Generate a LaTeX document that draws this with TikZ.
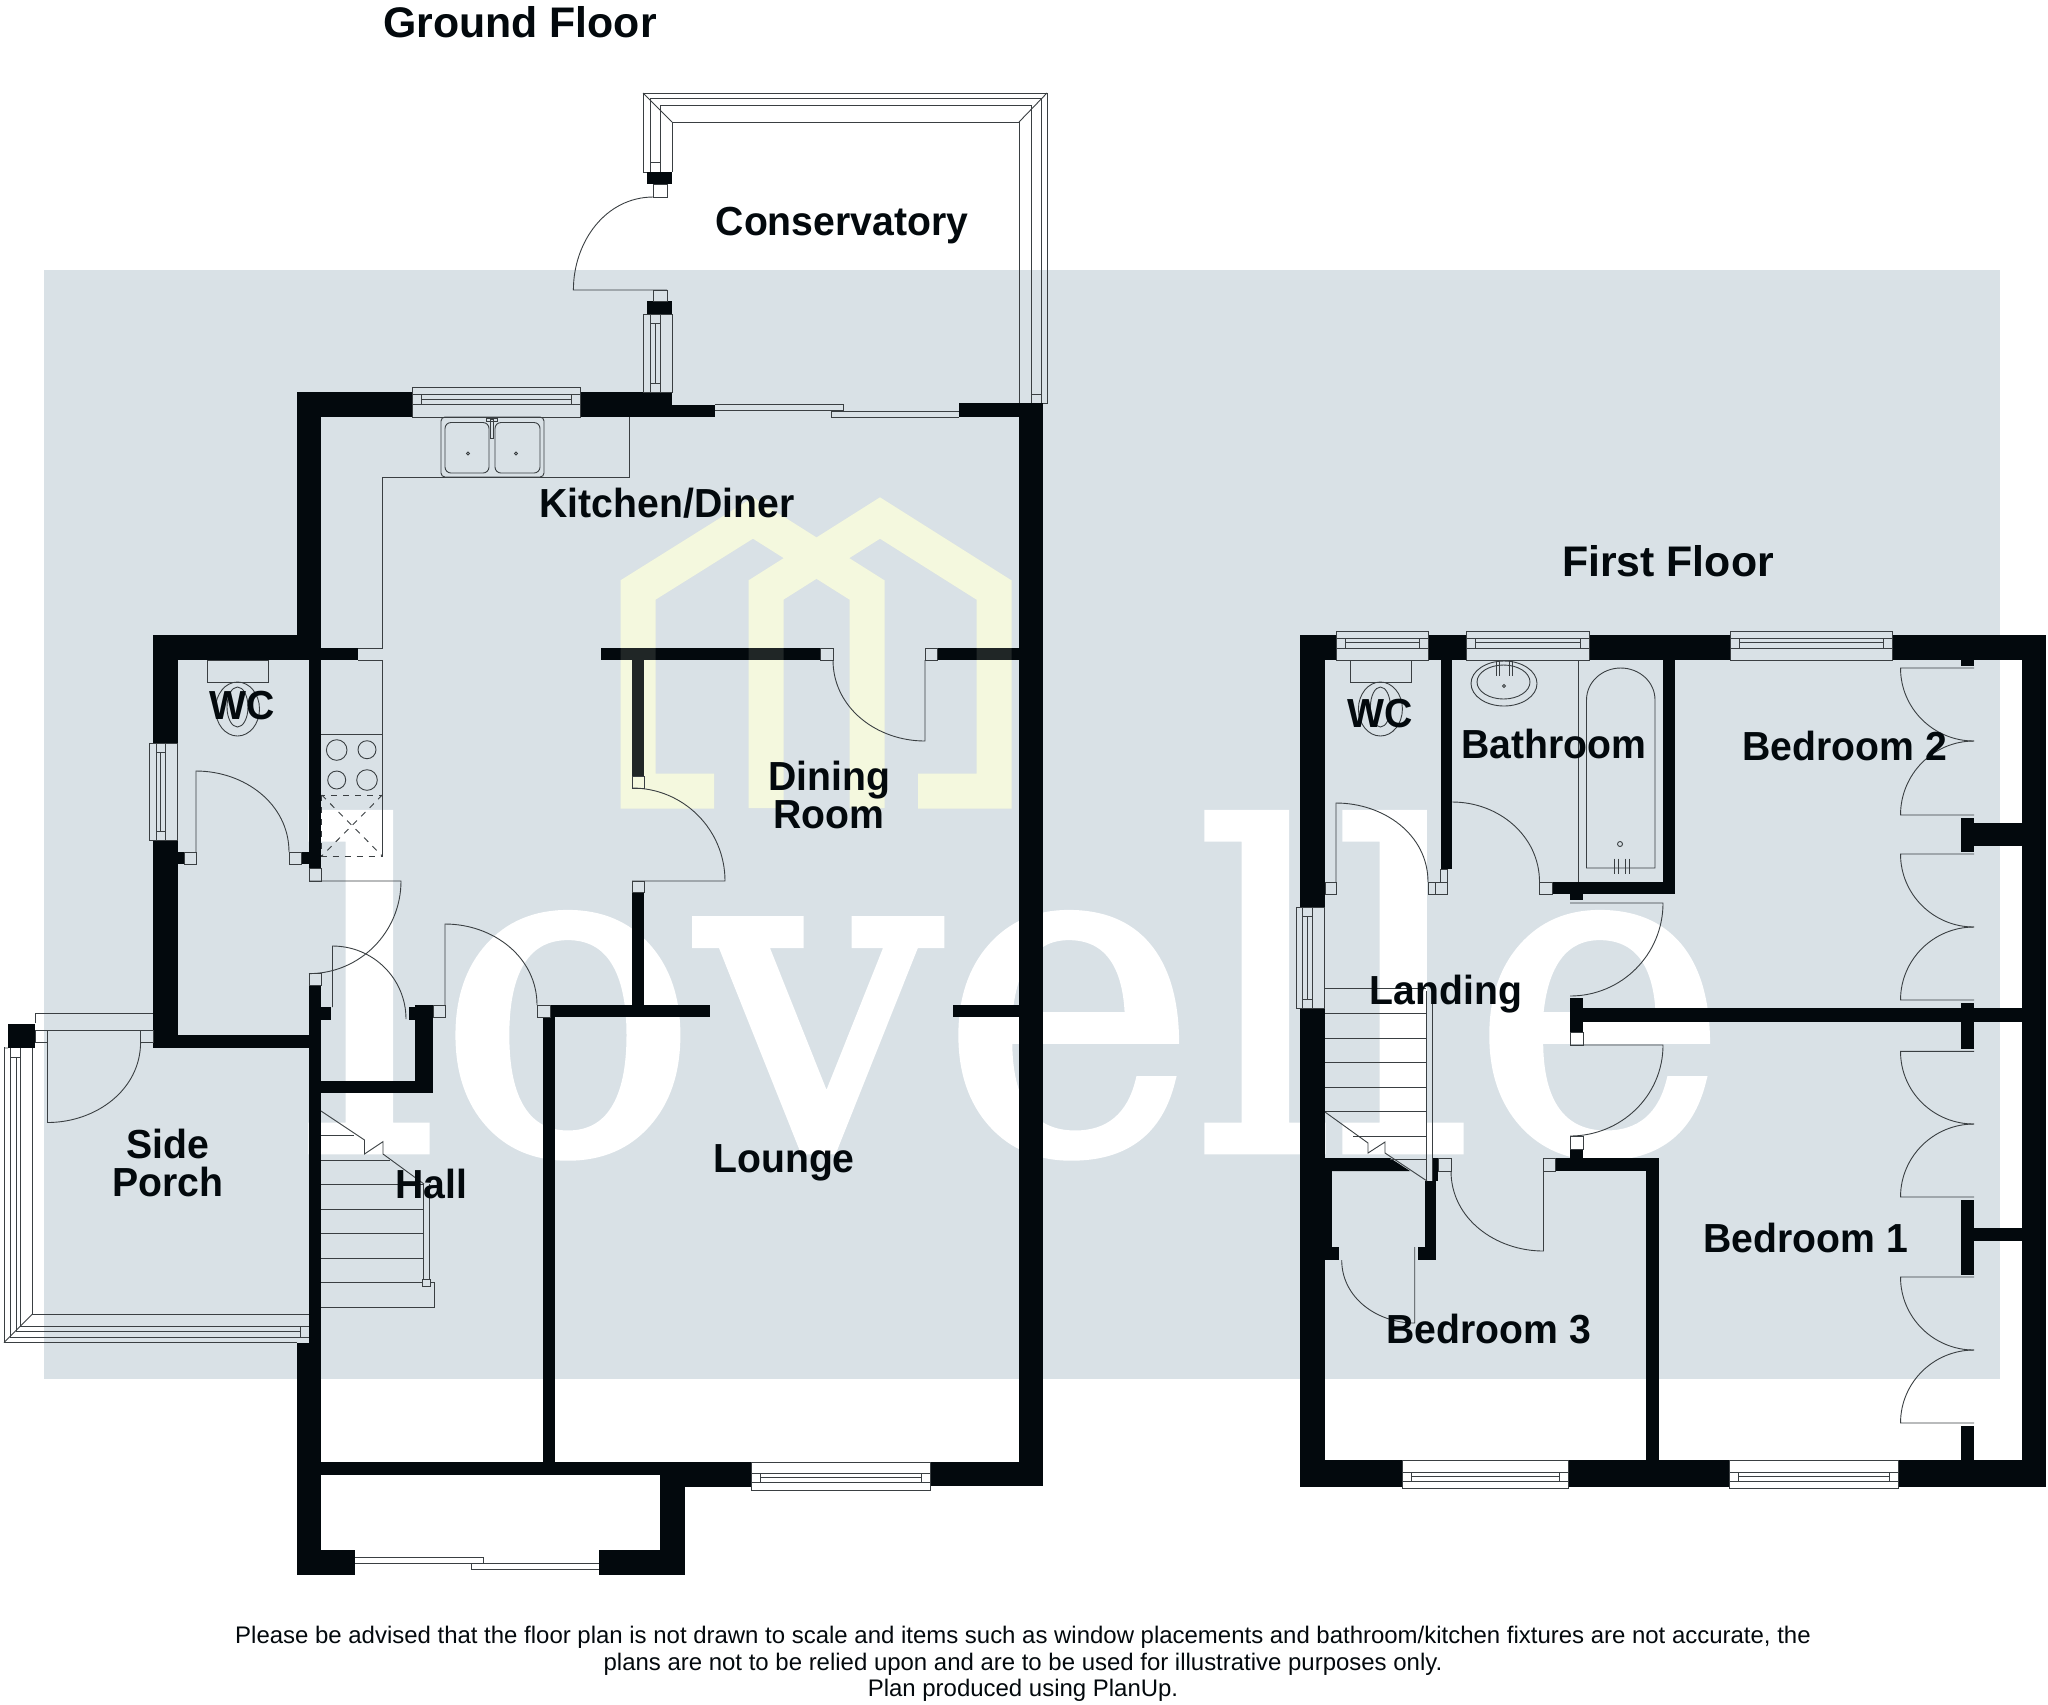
\documentclass[tikz,border=0pt]{standalone}
\usepackage{fontspec}
\setmainfont{Liberation Sans}
\newfontfamily\markfont[FakeBold=2]{DejaVu Serif}
\definecolor{bandc}{HTML}{D9E1E6}
\definecolor{wallc}{HTML}{03090D}
\definecolor{linec}{HTML}{3A3F42}
\definecolor{logoc}{HTML}{F4F8DE}
\tikzset{
  wall/.style={fill=wallc},
  thinline/.style={draw=linec, line width=.45pt},
  label/.style={font=\bfseries\fontsize{20.3}{19.2}\selectfont, align=center, text=wallc, inner sep=0pt, xscale=.965},
  headline/.style={font=\bfseries\fontsize{21.4}{24}\selectfont, text=wallc, inner sep=0pt},
  notetext/.style={font=\fontsize{11.98}{13.3}\selectfont, align=center, text=wallc, inner sep=0pt},
  logoline/.style={draw=logoc, line width=17.5pt, miter limit=10},
}
% window seen from above, in a horizontal wall
\newcommand{\hwin}[7]{
  \draw[thinline] (#1,#3) rectangle (#2,#7);
  \draw[thinline] (#1,#4) -- (#2,#4) (#1,#6) -- (#2,#6);
  \draw[thinline] (#1+9,#4) -- (#1+9,#6) (#2-9,#4) -- (#2-9,#6) (#1+9,#5) -- (#2-9,#5);
}
% same, in a vertical wall
\newcommand{\vwin}[7]{
  \draw[thinline] (#3,#1) rectangle (#7,#2);
  \draw[thinline] (#4,#1) -- (#4,#2) (#6,#1) -- (#6,#2);
  \draw[thinline] (#4,#1+9) -- (#6,#1+9) (#4,#2-9) -- (#6,#2-9) (#5,#1+9) -- (#5,#2-9);
}
\newcommand{\logopaths}[1]{
  \draw[logoline,#1] (714,791) -- (638,791) -- (638,590) -- (753,518) -- (867,590) -- (867,808);
  \draw[logoline,#1] (766,808) -- (766,590) -- (880,518) -- (994,590) -- (994,791) -- (918,791);
}
\begin{document}
\begin{tikzpicture}[x=.5pt,y=-.5pt]
\useasboundingbox (0,0) rectangle (2048,1704);

% band and watermark
\fill[bandc] (44,270) rectangle (2000,1379);
\logopaths{}
\node[anchor=base west, inner sep=0pt, text=white, xscale=.975, font=\markfont\fontsize{221}{221}\selectfont] (mark) at (300,1150) {lovelle};

% ground floor walls
\foreach \xa/\ya/\xb/\yb in {
  297/392/412/417, 580/392/672/417, 672/404.5/715/417, 958.6/403/1043/417,
  1019/403/1043/1486, 297/392/321/660, 153/635/321/660, 321/648/358/660,
  153/635/178/743, 153/840/178/1048, 178/852/184/864, 301.5/852/321/864,
  309/660/321/868, 153/1035/309/1048, 309/985/321/1342.5, 297/1342.5/321/1575,
  321/1007/330.5/1020, 321/1081/433/1093, 414.5/1005/433/1093, 409/1007/414.5/1020,
  550/1005/710/1017, 543/1017/555/1462, 632/892.5/644/1005, 632/660/644/776,
  600.7/648/820/660, 937/648/1019/660, 953/1005/1019/1017, 321/1462/660/1474.6,
  660/1462/751/1487, 930/1462/1043/1486, 660/1474/684.5/1575, 297/1550/355/1575,
  599/1550/684.5/1575, 8/1023.6/35/1048, 647/172/672/184, 647/301/672/314}
  \fill[wall] (\xa,\ya) rectangle (\xb,\yb);

% first floor walls
\foreach \xa/\ya/\xb/\yb in {
  1300/635/1336/660, 1428/635/1466/660, 1589.5/635/1730.5/660, 1892/635/2046.4/660,
  1300/635/1325/907, 1300/1008/1325/1486.5, 2022/635/2046.4/1486.5,
  1300/1460/1402.4/1486.5, 1568/1460/1729/1486.5, 1898/1460/2046.4/1486.5,
  1440.6/660/1452.4/869, 1552/882/1675/894, 1663/660/1675/894, 1570/894/1583/900,
  1570/998/1583/1032.5, 1583/1008/2022/1022, 1570/1149/1583/1158, 1555/1158/1659/1171,
  1646/1171/1659/1460, 1325/1171/1332/1247, 1325/1247/1339/1260,
  1424.5/1181/1436/1247, 1417.6/1247/1436/1260, 1432.8/1158/1437.7/1181,
  1961/660/1974/666, 1961/817.5/1974/851.5, 1974/823/2022/846, 1961/1003/1974/1048.5,
  1961/1200/1974/1274.6, 1974/1228/2022/1240.5, 1961/1426/1974/1460}
  \fill[wall] (\xa,\ya) rectangle (\xb,\yb);
\fill[wall] (1325,1158) -- (1390,1158) -- (1410,1171) -- (1325,1171) -- cycle;
\logopaths{opacity=.12}

% windows
\hwin{412}{580}{387}{394.6}{399.5}{404.6}{417}
\hwin{751}{930}{1462}{1473}{1477}{1482}{1490}
\hwin{1336}{1428}{631.4}{638}{642.5}{648}{660}
\hwin{1466}{1589.5}{631.4}{638}{642.5}{648}{660}
\hwin{1730.5}{1892}{631.4}{638}{642.5}{648}{660}
\hwin{1402.4}{1568}{1460}{1472}{1476.6}{1481.6}{1488}
\hwin{1729}{1898}{1460}{1472}{1476.6}{1481.6}{1488}
\vwin{743}{840}{149}{156}{160}{165}{177.5}
\vwin{907}{1008}{1296}{1302}{1307}{1312}{1324}
\vwin{314}{392}{643}{650}{655}{660}{672}

% conservatory frame
\draw[thinline] (643,172) -- (643,93) -- (1047,93) -- (1047,403) -- (1043,403);
\draw[thinline] (650,172) -- (650,98.5) -- (1041,98.5) -- (1041,403);
\draw[thinline] (660,172) -- (660,105.6) -- (1031,105.6) -- (1031,403);
\draw[thinline] (672,172) -- (672,122) -- (1019,122) -- (1019,403);
\draw[thinline] (643,93) -- (672,122) (1047,93) -- (1019,122);
\draw[thinline] (643,172) -- (647,172) (650,162) -- (660,162) (1031,394.6) -- (1041,394.6);
\draw[thinline] (653.5,184) rectangle (667,197) (653.5,290) rectangle (667,301);
\draw[thinline] (667,290) -- (573.4,290) to[out=90,in=180] (653.5,197);

% sliding doors
\draw[thinline] (715,404.5) -- (843,404.5) -- (843,410) -- (715,410);
\draw[thinline] (958.6,411) -- (831,411) -- (831,417) -- (958.6,417);
\draw[thinline] (355,1557) -- (483,1557) -- (483,1563) -- (355,1563);
\draw[thinline] (599,1563) -- (471,1563) -- (471,1569.5) -- (599,1569.5);

% kitchen units
\draw[thinline] (629,417) -- (629,477) -- (382,477) -- (382,648) -- (358,648);
\draw[thinline] (358,660) -- (382,660) -- (382,856);
\draw[thinline] (321,734) -- (382,734);
\draw[thinline, rounded corners=2pt] (441,417) rectangle (544,477);
\draw[thinline, rounded corners=3pt] (445,422.5) rectangle (489,473);
\draw[thinline, rounded corners=3pt] (495,422.5) rectangle (540,473);
\draw[thinline] (490,419) rectangle (493,438) (486,418) rectangle (497,421);
\draw[thinline] (468,453.5) circle (1.5) (516,453.5) circle (1.5);
\draw[thinline] (336.7,750) circle (10.3) (367,749.7) circle (9) (336.7,780) circle (9) (367,780) circle (10.3);
\draw[thinline, dashed] (321.7,795) rectangle (382.3,856);
\draw[thinline, dashed] (321.7,795) -- (382.3,856) (382.3,795) -- (321.7,856);

% ground floor doors
\draw[thinline] (820,648) rectangle (833,660) (925,648) rectangle (937,660);
\draw[thinline] (925,660) -- (925,741) to[out=180,in=270] (833,660);
\draw[thinline] (632,776) rectangle (644,788) (632,881) rectangle (644,892.5);
\draw[thinline] (632,881) -- (725,881) to[out=90,in=0] (632,788);
\draw[thinline] (184,852) rectangle (196,864) (289,852) rectangle (301.5,864);
\draw[thinline] (196,852) -- (196,771) to[out=0,in=90] (289,852);
\draw[thinline] (309,868) rectangle (321,881) (309,973.6) rectangle (321,985);
\draw[thinline] (309,881) -- (401,881) to[out=270,in=0] (309,973.6);
\draw[thinline] (332.5,1007) -- (332.5,946) to[out=0,in=90] (406,1019);
\draw[thinline] (433,1005) rectangle (445,1017) (537,1005) rectangle (550,1017);
\draw[thinline] (445,1005) -- (445,924) to[out=0,in=90] (537,1005);

% side porch
\draw[thinline] (35,1013) -- (153,1013) (35,1030) -- (153,1030) (35,1013) -- (35,1023);
\draw[thinline] (35,1030) rectangle (47.5,1042) (140.6,1030) rectangle (153,1042);
\draw[thinline] (47.5,1042) -- (47.5,1122.5) to[out=0,in=270] (140.6,1042);
\draw[thinline] (4,1047) -- (4,1342.5) -- (297,1342.5);
\draw[thinline] (10.7,1048) -- (10.7,1337) -- (309,1337);
\draw[thinline] (16,1057) -- (16,1331) -- (300,1331);
\draw[thinline] (20.4,1048) -- (20.4,1326.5) -- (309,1326.5);
\draw[thinline] (32.5,1048) -- (32.5,1314) -- (309,1314);
\draw[thinline] (4,1342.5) -- (32.5,1314) (4,1048) -- (8,1048);
\draw[thinline] (10.7,1057) -- (20.4,1057) (300,1326.5) -- (300,1337);

% hall stairs
\draw[thinline] (321,1111) -- (364.5,1140) -- (364.5,1154) -- (383,1141.6) -- (383,1154) -- (424,1184);
\draw[thinline] (423,1184) -- (423,1279) (429,1184) -- (429,1279);
\draw[thinline] (422,1279) rectangle (430,1286);
\foreach \ya/\xb in {1135/354, 1160/390, 1184.5/423, 1209/423, 1233.5/423, 1258/423, 1282.4/422}
  \draw[thinline] (321,\ya) -- (\xb,\ya);
\draw[thinline] (430,1282) -- (434,1282) -- (434,1307) -- (321,1307);

% ground floor WC
\draw[thinline] (207,660) rectangle (268,682.5);
\draw[thinline] (237.5,709) ellipse (22 and 27) (237.5,707) ellipse (10.5 and 20);

% first floor WC and bathroom
\draw[thinline] (1350,660) rectangle (1411,682.5);
\draw[thinline] (1380.4,709) ellipse (22 and 27) (1380.4,707) ellipse (10 and 20);
\draw[thinline] (1325,882) rectangle (1336,894) (1428,882) rectangle (1447.5,894) (1440.6,869) rectangle (1447.5,882) (1435,882) -- (1435,894);
\draw[thinline] (1336,882) -- (1336,803) to[out=0,in=90] (1428,882);
\draw[thinline] (1539.5,882) rectangle (1552,894);
\draw[thinline] (1452.4,802) to[out=0,in=90] (1539.5,882);
\draw[thinline] (1578,660) -- (1578,882);
\draw[thinline] (1586.5,868) -- (1586.5,700) to[out=90,in=180] (1620.7,668) to[out=0,in=90] (1655,700) -- (1655,868) -- cycle;
\draw[thinline] (1614.5,858.6) -- (1614.5,873.6) (1625.7,858.6) -- (1625.7,873.6) (1618,858.6) -- (1618,873.6) (1629,858.6) -- (1629,873.6);
\draw[thinline] (1620,844) circle (2.5);
\draw[thinline] (1504,683.5) ellipse (33 and 22.5) (1503.5,682) ellipse (26.5 and 17);
\draw[thinline] (1496,661) -- (1496,676) (1499,661) -- (1499,676) (1509,661) -- (1509,676) (1512,661) -- (1512,676);
\draw[thinline] (1504,686) circle (1.5);

% landing doors
\draw[thinline] (1570,903) -- (1663,903) to[out=270,in=0] (1570,996);
\draw[thinline] (1570,1032.5) rectangle (1583,1045);
\draw[thinline] (1570,1045) -- (1663,1045) to[out=270,in=0] (1570,1136);
\draw[thinline] (1570,1136) rectangle (1583,1149);
\draw[thinline] (1543.5,1158) rectangle (1555,1171) (1438.7,1158) rectangle (1451,1171);
\draw[thinline] (1543.5,1171) -- (1543.5,1251) to[out=180,in=270] (1451,1171);
\draw[thinline] (1414.7,1247) -- (1414.7,1323) to[out=180,in=270] (1341.7,1260);

% landing stairs
\draw[thinline] (1325,1112) -- (1368,1143) -- (1368,1153) -- (1385,1142) -- (1385,1153) -- (1427,1181);
\draw[thinline] (1426,991) -- (1426,1181) (1432,991) -- (1432,1181);
\foreach \xa/\ya in {1325/988, 1325/1013, 1325/1038, 1325/1062, 1325/1087, 1325/1111, 1353/1136, 1390/1159}
  \draw[thinline] (\xa,\ya) -- (1426,\ya);

% wardrobes
\foreach \ya/\ym/\yb in {668/741/815, 854/927/1000, 1051.4/1124/1197, 1277/1350/1423}{
  \draw[thinline] (1974,\ya) -- (1900.5,\ya) to[out=270,in=180] (1974,\ym);
  \draw[thinline] (1974,\yb) -- (1900.5,\yb) to[out=90,in=180] (1974,\ym);
}

% texts
\node[headline] (groundfloor) at (520,22) {Ground Floor};
\node[headline] (firstfloor) at (1668,561) {First Floor};
\node[label] (conservatory) at (842,226) {Conservatory};
\node[label] (kitchen) at (667,503) {Kitchen/Diner};
\node[label] (wcground) at (242,706) {WC};
\node[label] (dining) at (829,795) {Dining\\Room};
\node[label] (porch) at (168,1163) {Side\\Porch};
\node[label] (hall) at (431,1184) {Hall};
\node[label] (lounge) at (784,1163) {Lounge};
\node[label] (wcfirst) at (1380,714) {WC};
\node[label] (bathroom) at (1554,744) {Bathroom};
\node[label] (bedtwo) at (1845,746) {Bedroom 2};
\node[label] (landing) at (1446,994) {Landing};
\node[label] (bedone) at (1806,1238) {Bedroom 1};
\node[label] (bedthree) at (1489,1329) {Bedroom 3};
\node[notetext] (note) at (1023,1664) {Please be advised that the floor plan is not drawn to scale and items such as window placements and bathroom/kitchen fixtures are not accurate, the\\plans are not to be relied upon and are to be used for illustrative purposes only.\\Plan produced using PlanUp.};
\end{tikzpicture}
\end{document}
